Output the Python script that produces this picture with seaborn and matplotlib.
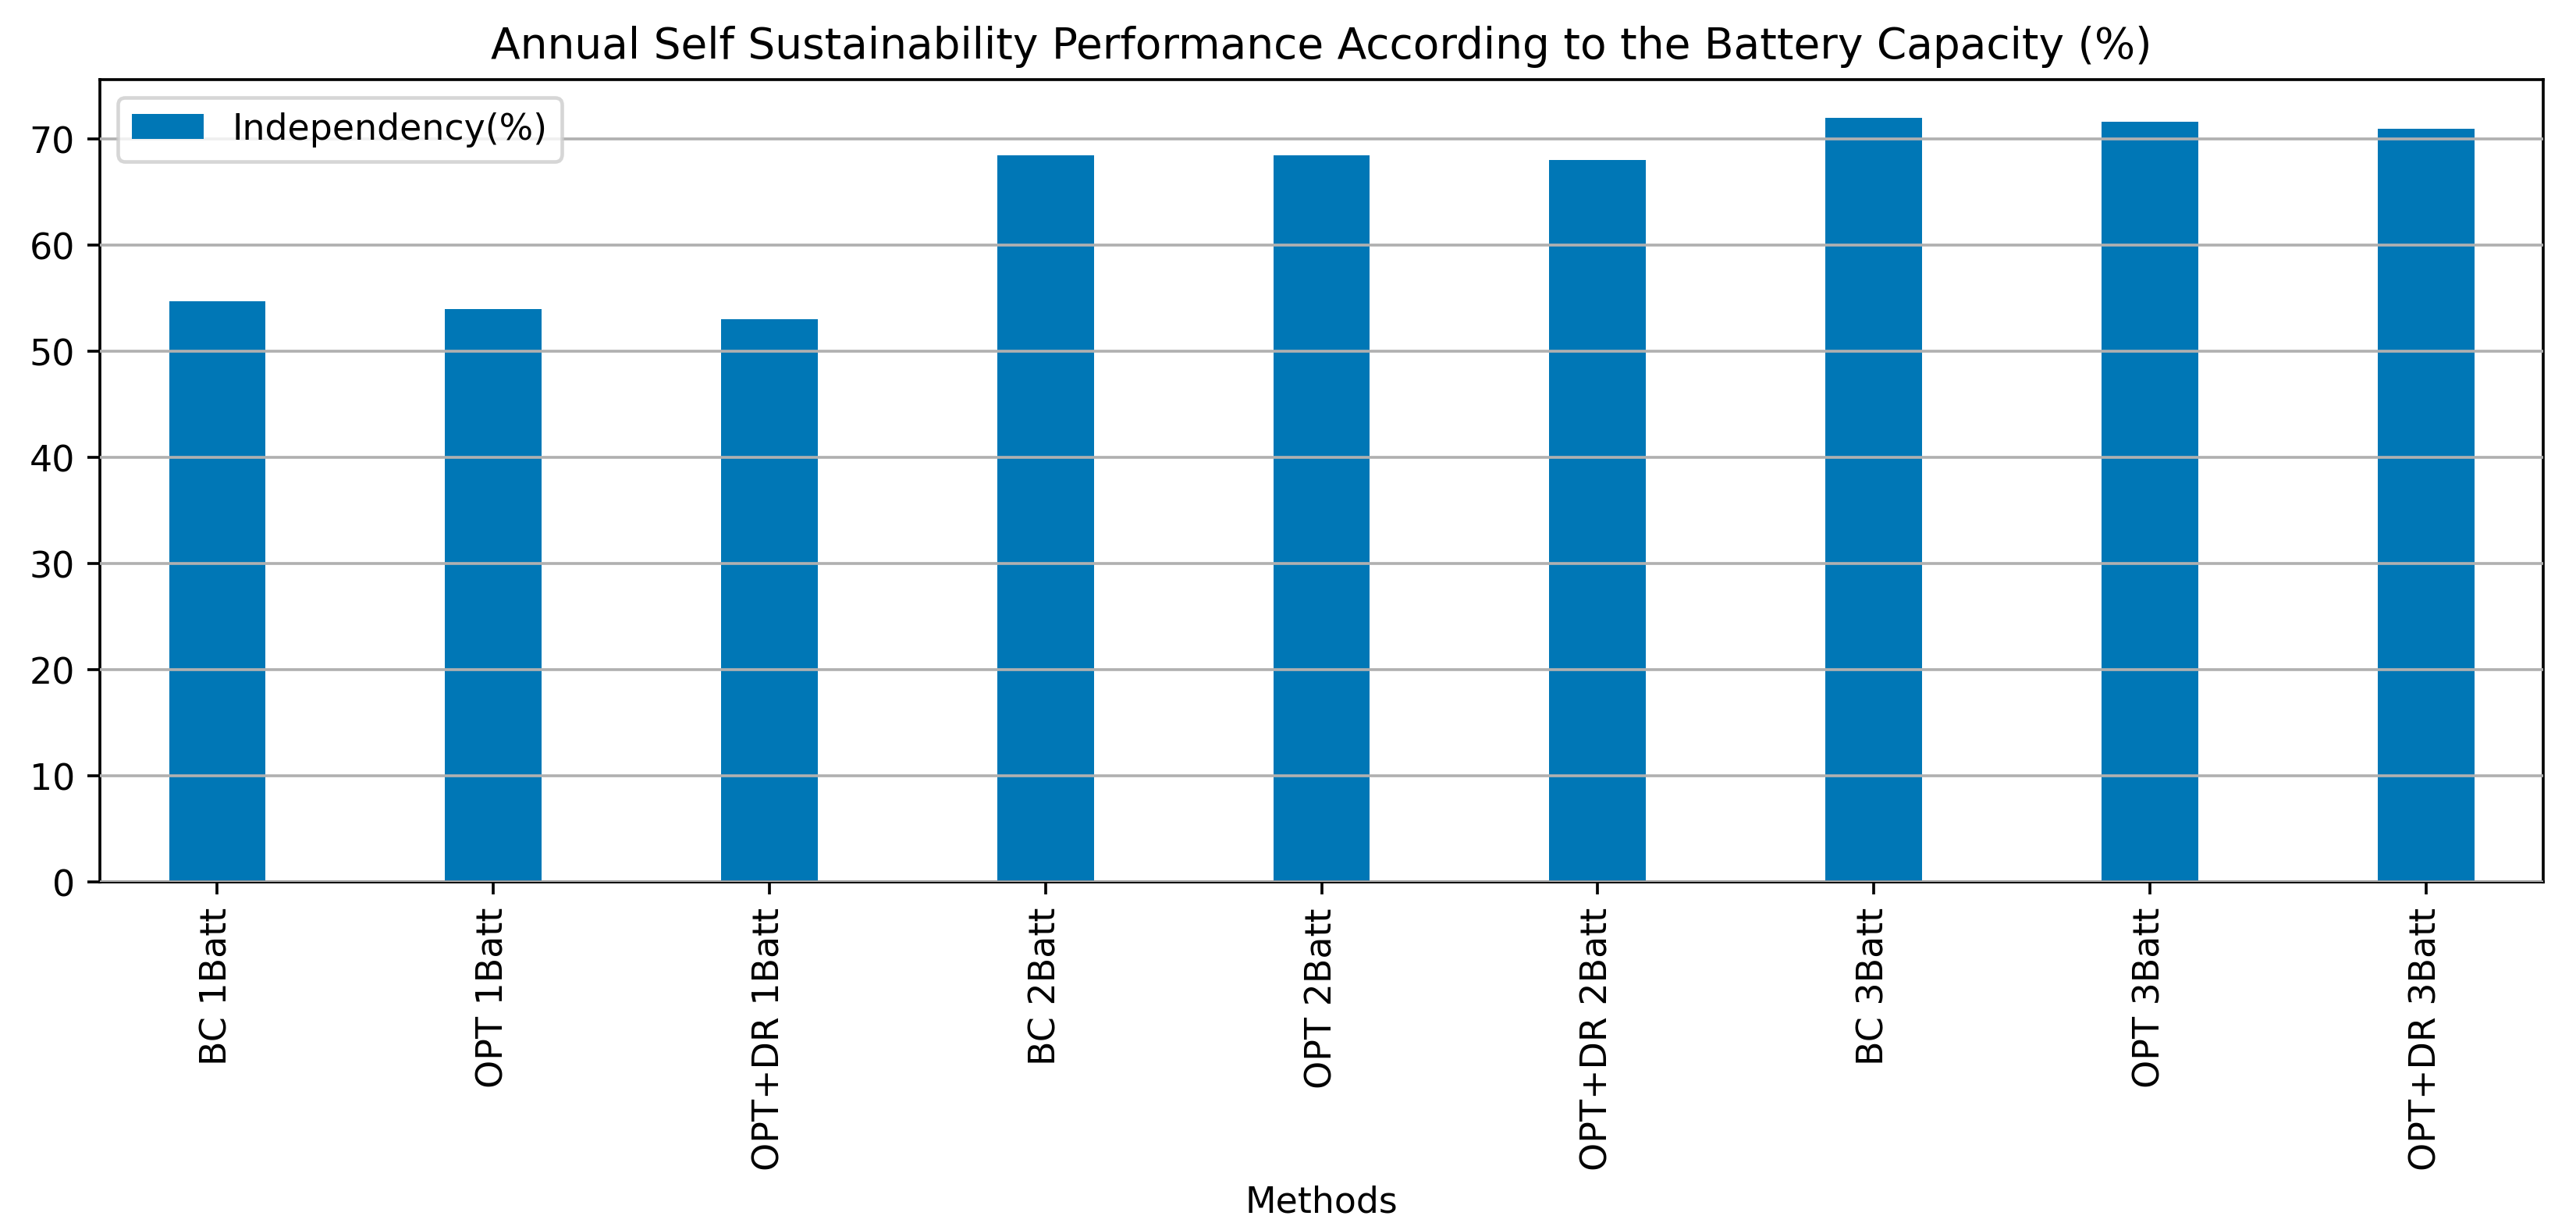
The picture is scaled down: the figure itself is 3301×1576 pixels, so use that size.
import matplotlib

matplotlib.use("Agg")
import matplotlib.pyplot as plt
import pandas as pd
import seaborn as sns


METHODS = [
    "BC 1Batt",
    "OPT 1Batt",
    "OPT+DR 1Batt",
    "BC 2Batt",
    "OPT 2Batt",
    "OPT+DR 2Batt",
    "BC 3Batt",
    "OPT 3Batt",
    "OPT+DR 3Batt",
]
INDEPENDENCY = [54.7, 54.0, 53.0, 68.5, 68.5, 68.0, 72.0, 71.6, 71.0]

BAR_COLOR = "#0077B6"
DPI = 330


def main() -> None:
    df = pd.DataFrame({"method": METHODS, "independency": INDEPENDENCY})

    plt.rcParams["font.family"] = ["DejaVu Sans"]
    plt.rcParams["font.size"] = 10

    fig = plt.figure(figsize=(3301 / DPI, 1577 / DPI), dpi=DPI)
    ax = fig.add_axes([0.0388, 0.2828, 0.9485, 0.6519])

    sns.barplot(
        data=df,
        x="method",
        y="independency",
        color=BAR_COLOR,
        saturation=1,
        width=0.35,
        label="Independency(%)",
        ax=ax,
    )

    ax.set_xlim(-0.425, len(METHODS) - 1 + 0.425)
    ax.set_ylim(0, max(INDEPENDENCY) * 1.05)
    ax.set_axisbelow(False)
    ax.yaxis.grid(True, color="#b0b0b0", linewidth=0.8)
    ax.xaxis.grid(False)
    ax.tick_params(axis="x", labelrotation=90)
    ax.set_title("Annual Self Sustainability Performance According to the Battery Capacity (%)")
    ax.set_xlabel("Methods")
    ax.set_ylabel("")
    ax.legend(loc="upper left")

    fig.savefig("out.png", dpi=DPI)
    plt.close(fig)


if __name__ == "__main__":
    main()
